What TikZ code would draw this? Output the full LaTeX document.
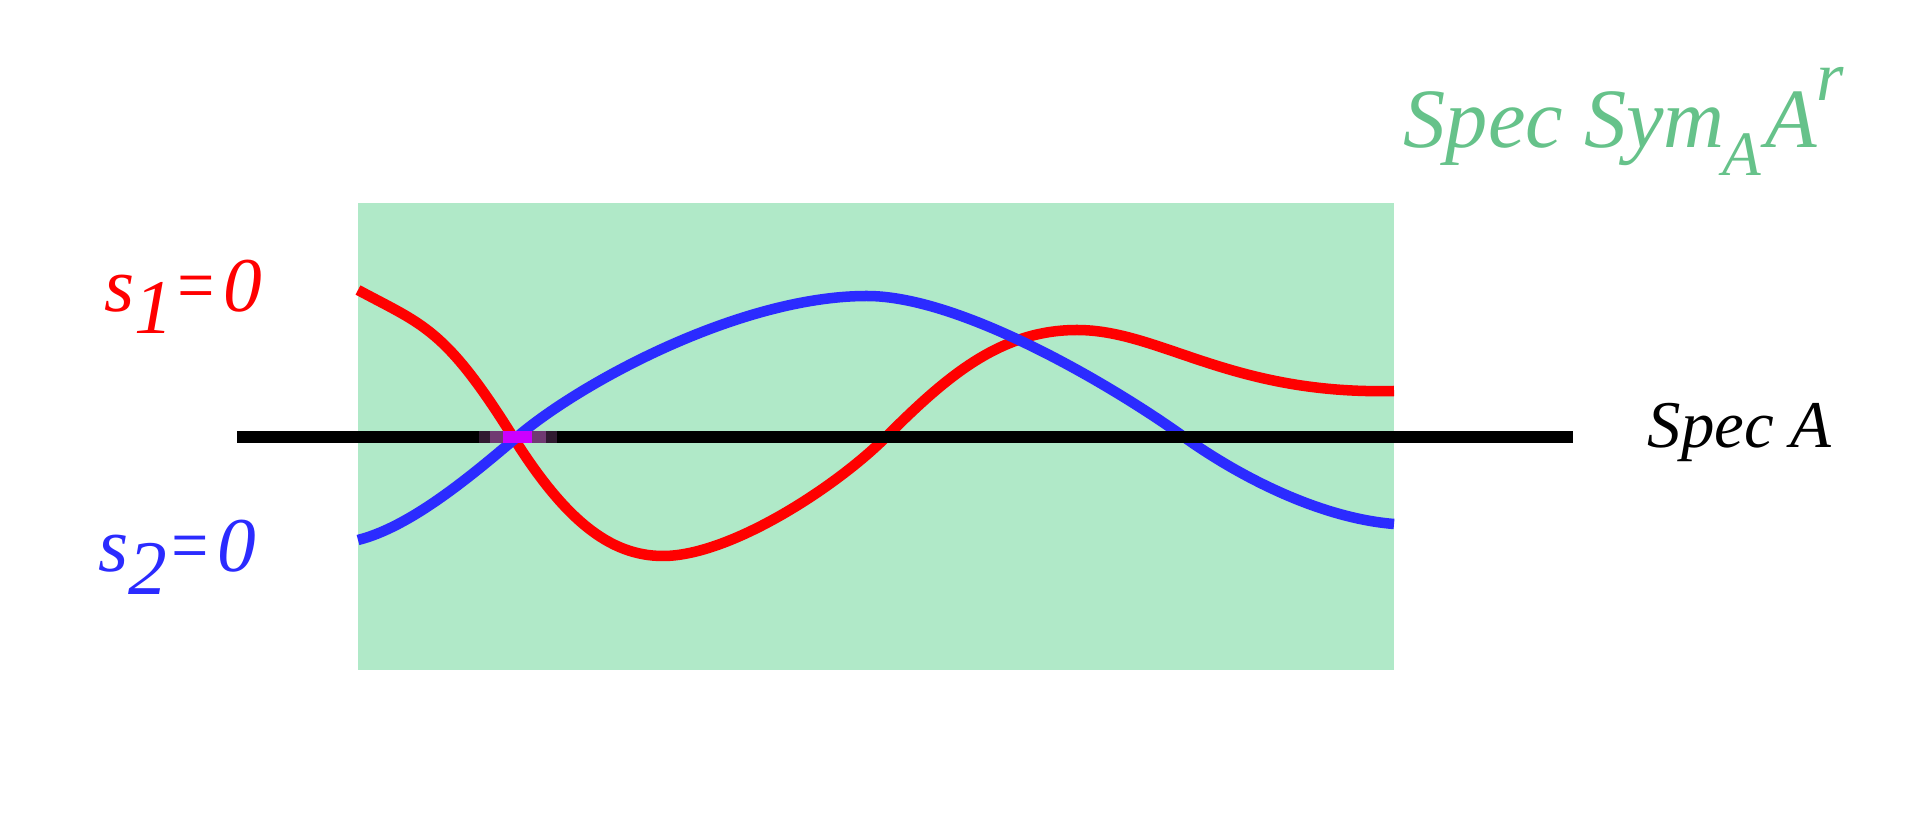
\documentclass[tikz,border=0pt]{standalone}
\usepackage{graphicx}
\usepackage{fontspec}
\setmainfont{Liberation Serif}
\definecolor{flaeche}{HTML}{B0E9C8}
\definecolor{kurverot}{HTML}{FF0000}
\definecolor{kurveblau}{HTML}{2B2BFF}
\definecolor{schriftgruen}{HTML}{66C28A}
\definecolor{dunkellila}{HTML}{301A30}
\definecolor{mittellila}{HTML}{703A72}
\definecolor{hellila}{HTML}{CC00FF}
\begin{document}
\begin{tikzpicture}[x=0.01cm, y=-0.01cm,
  kurve/.style={line width=1.05mm, line join=round},
  beschr/.style={inner sep=0pt, anchor=base west, font=\itshape}]
\useasboundingbox (0,0) rectangle (1927,813);
% Fläche
\fill[flaeche] (358,203) rectangle (1394,670);

% Kurven
\draw[kurve, kurverot] (358,290) .. controls (423,325) and (445,328) .. (513,437)
  .. controls (565,520) and (610,556) .. (663,556)
  .. controls (730,556) and (836,487) .. (886,437)
  .. controls (946,377) and (1000,330) .. (1077,330)
  .. controls (1160,330) and (1230,395) .. (1394,391);
\draw[kurve, kurveblau] (358,540) .. controls (410,527) and (470,477) .. (517,437)
  .. controls (580,383) and (740,296) .. (867,296)
  .. controls (960,296) and (1110,384) .. (1184,437)
  .. controls (1240,477) and (1320,518) .. (1394,524);

% Gerade
\coordinate (links) at (237,437);
\coordinate (rechts) at (1573,437);
\draw[line width=1.2mm] (links) -- (rechts);

% Schnittpunkt
\fill[dunkellila] (479,431) rectangle (557,443);
\fill[mittellila] (490,431) rectangle (546,443);
\fill[hellila] (503,431) rectangle (532,443);

% Beschriftungen
\node[beschr, kurverot, font=\itshape\fontsize{22}{26}\selectfont] (s1) at (104,312)
  {s\raisebox{-2.1mm}{1}\scalebox{0.85}[1]{=}\hspace{0.6mm}0};
\node[beschr, kurveblau, font=\itshape\fontsize{22}{26}\selectfont] (s2) at (98,572)
  {s\raisebox{-2.2mm}{2}\scalebox{0.85}[1]{=}\hspace{0.6mm}0};
\node[beschr, font=\itshape\fontsize{19}{23}\selectfont] (specA) at (1647,448) {Spec A};
\node[beschr, schriftgruen, font=\itshape\fontsize{24}{28}\selectfont] (specSym) at (1403,148)
  {Spec Sym\hspace{-0.2mm}\raisebox{-2.7mm}{\fontsize{18}{20}\selectfont A}\hspace{0.4mm}A\raisebox{4.7mm}{\fontsize{20}{22}\selectfont r}};
\end{tikzpicture}
\end{document}
